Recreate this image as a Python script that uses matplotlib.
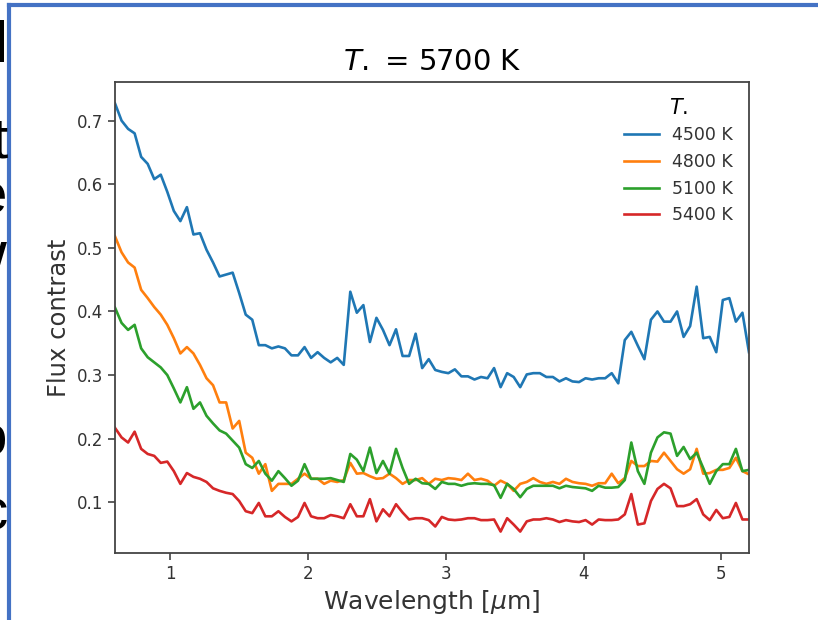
import numpy as np
import matplotlib
matplotlib.use("Agg")
import matplotlib.pyplot as plt

# flux contrast, 98 samples from 0.6 to 5.2 um
flux_4500 = [0.727, 0.700, 0.687, 0.680, 0.643, 0.632, 0.608, 0.615, 0.588, 0.558,
             0.542, 0.564, 0.521, 0.523, 0.497, 0.477, 0.455, 0.458, 0.461, 0.429,
             0.395, 0.387, 0.347, 0.347, 0.342, 0.345, 0.342, 0.331, 0.331, 0.344,
             0.327, 0.336, 0.327, 0.320, 0.327, 0.316, 0.431, 0.398, 0.410, 0.352,
             0.390, 0.371, 0.347, 0.372, 0.330, 0.330, 0.365, 0.311, 0.325, 0.308,
             0.305, 0.303, 0.309, 0.298, 0.298, 0.293, 0.297, 0.295, 0.311, 0.281,
             0.303, 0.297, 0.281, 0.301, 0.303, 0.303, 0.297, 0.297, 0.290, 0.295,
             0.290, 0.289, 0.295, 0.293, 0.295, 0.295, 0.303, 0.287, 0.355, 0.368,
             0.346, 0.325, 0.387, 0.400, 0.384, 0.384, 0.400, 0.360, 0.377, 0.439,
             0.358, 0.360, 0.336, 0.418, 0.421, 0.384, 0.398, 0.336]

flux_4800 = [0.518, 0.493, 0.477, 0.469, 0.434, 0.421, 0.407, 0.395, 0.379, 0.358,
             0.334, 0.344, 0.334, 0.316, 0.295, 0.284, 0.257, 0.257, 0.216, 0.228,
             0.178, 0.170, 0.145, 0.160, 0.118, 0.129, 0.129, 0.129, 0.137, 0.145,
             0.137, 0.137, 0.129, 0.134, 0.132, 0.135, 0.162, 0.145, 0.146, 0.141,
             0.137, 0.138, 0.145, 0.138, 0.129, 0.135, 0.135, 0.138, 0.129, 0.137,
             0.135, 0.138, 0.137, 0.135, 0.145, 0.135, 0.137, 0.134, 0.126, 0.134,
             0.129, 0.118, 0.129, 0.132, 0.138, 0.132, 0.129, 0.132, 0.129, 0.137,
             0.132, 0.130, 0.129, 0.126, 0.130, 0.130, 0.145, 0.130, 0.138, 0.165,
             0.157, 0.157, 0.165, 0.164, 0.178, 0.165, 0.152, 0.145, 0.152, 0.184,
             0.145, 0.146, 0.151, 0.151, 0.154, 0.170, 0.149, 0.144]

flux_5100 = [0.406, 0.382, 0.371, 0.379, 0.342, 0.328, 0.320, 0.312, 0.300, 0.279,
             0.257, 0.281, 0.247, 0.257, 0.236, 0.224, 0.213, 0.208, 0.197, 0.186,
             0.160, 0.154, 0.165, 0.145, 0.134, 0.149, 0.138, 0.126, 0.134, 0.160,
             0.137, 0.137, 0.137, 0.138, 0.135, 0.132, 0.176, 0.167, 0.149, 0.186,
             0.146, 0.165, 0.145, 0.184, 0.154, 0.129, 0.137, 0.130, 0.129, 0.121,
             0.132, 0.129, 0.129, 0.126, 0.129, 0.130, 0.129, 0.129, 0.127, 0.107,
             0.129, 0.121, 0.108, 0.121, 0.126, 0.126, 0.126, 0.126, 0.122, 0.126,
             0.124, 0.123, 0.122, 0.118, 0.126, 0.123, 0.123, 0.124, 0.135, 0.194,
             0.149, 0.129, 0.178, 0.202, 0.210, 0.208, 0.173, 0.187, 0.168, 0.178,
             0.154, 0.129, 0.149, 0.160, 0.160, 0.184, 0.149, 0.151]

flux_5400 = [0.217, 0.202, 0.194, 0.211, 0.184, 0.176, 0.173, 0.162, 0.164, 0.149,
             0.129, 0.146, 0.140, 0.137, 0.132, 0.122, 0.118, 0.115, 0.113, 0.102,
             0.086, 0.083, 0.099, 0.078, 0.078, 0.086, 0.077, 0.070, 0.077, 0.099,
             0.078, 0.075, 0.075, 0.080, 0.078, 0.075, 0.097, 0.078, 0.078, 0.105,
             0.070, 0.089, 0.078, 0.097, 0.084, 0.073, 0.075, 0.075, 0.072, 0.062,
             0.077, 0.073, 0.072, 0.073, 0.075, 0.075, 0.072, 0.072, 0.073, 0.054,
             0.075, 0.065, 0.054, 0.070, 0.073, 0.073, 0.075, 0.073, 0.069, 0.072,
             0.070, 0.069, 0.072, 0.065, 0.073, 0.072, 0.072, 0.073, 0.081, 0.113,
             0.065, 0.067, 0.102, 0.121, 0.129, 0.122, 0.094, 0.094, 0.097, 0.105,
             0.081, 0.072, 0.088, 0.075, 0.077, 0.099, 0.073, 0.073]

labels = ["4500 K", "4800 K", "5100 K", "5400 K"]
wl_min, wl_max = 0.6, 5.2

# wavelength grid (even sampling)
wl = np.linspace(wl_min, wl_max, len(flux_4500))

fig = plt.figure(figsize=(8.18, 6.2), dpi=100)
ax = fig.add_axes([0.1406, 0.1081, 0.775, 0.7596])

for f, lab in zip([flux_4500, flux_4800, flux_5100, flux_5400], labels):
    ax.plot(wl, f, label=lab, linewidth=1.9)

ax.set_xlim(wl_min, wl_max)
ax.set_title(r"$T.$ = 5700 K", fontsize=21, pad=9)
ax.set_xlabel(r"Wavelength [$\mu$m]", fontsize=18, color='#333333')
ax.set_ylabel("Flux contrast", fontsize=17.5, color='#333333')
ax.tick_params(labelsize=12, colors='#333333', length=5, width=1.1)
for s in ax.spines.values():
    s.set_color('#444444')
    s.set_linewidth(1.3)

leg = ax.legend(title=r"$T.$", frameon=False, fontsize=12.5, title_fontsize=15,
                loc='upper right')
for t in leg.get_texts():
    t.set_color('#333333')

# slide frame around the picture
fig.add_artist(plt.Line2D([0.0115, 1.0], [0.992, 0.992], color='#4472C4', linewidth=3,
                          transform=fig.transFigure))
fig.add_artist(plt.Line2D([0.0115, 0.0115], [0.0, 0.992], color='#4472C4', linewidth=3,
                          transform=fig.transFigure))

# clipped slide text on the far left
for ch, y in [("l", 0.925), ("t", 0.77), ("e", 0.68), ("W", 0.57), ("o", 0.29), ("c", 0.17)]:
    fig.text(0.009, y, ch, fontsize=42, ha='right', va='center', color='black',
             family='Liberation Sans')

fig.savefig("out.png", dpi=100)
